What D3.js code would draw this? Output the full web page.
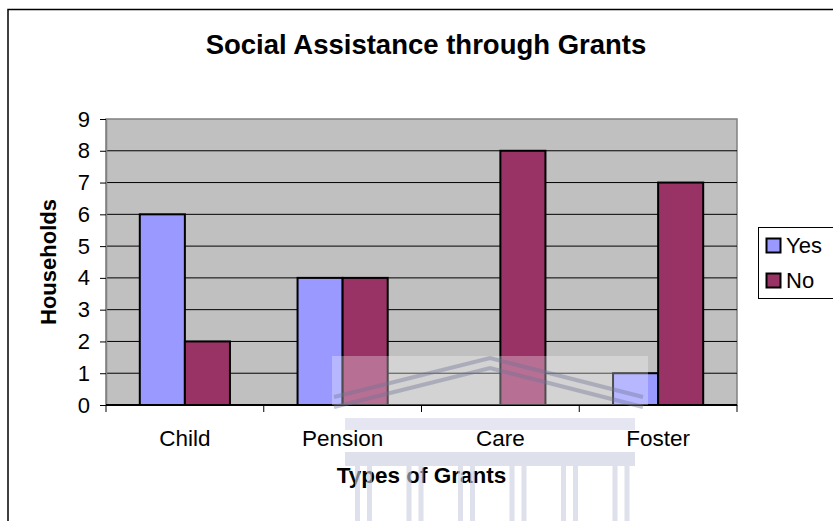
<!DOCTYPE html>
<html>
<head>
<meta charset="utf-8">
<script src="https://cdn.jsdelivr.net/npm/d3@7"></script>
<style>
  body { margin: 0; background: #fff; }
  svg { display: block; font-family: "Liberation Sans", Arial, sans-serif; }
</style>
</head>
<body>
<div id="chart"></div>
<script>
// data
const grants = ["Child", "Pension", "Care", "Foster"];
const yesValues = [6, 4, 0, 1];
const noValues = [2, 4, 8, 7];
const seriesNames = ["Yes", "No"];
const yTicks = [0, 1, 2, 3, 4, 5, 6, 7, 8, 9];

const W = 833, H = 521;
const margin = {top: 119, right: 96, bottom: 116, left: 106},
    width = W - margin.left - margin.right,
    height = H - margin.top - margin.bottom;

const colors = d3.scaleOrdinal().domain(seriesNames).range(["#9999ff", "#993366"]);

const svg = d3.select("#chart")
  .append("svg")
    .attr("width", W)
    .attr("height", H);

// outer chart border (runs off right/bottom edge)
svg.append("rect")
  .attr("x", 8).attr("y", 9.5)
  .attr("width", W + 20).attr("height", H + 20)
  .attr("fill", "none").attr("stroke", "#000").attr("stroke-width", 1.5);

svg.append("text")
  .attr("x", 426).attr("y", 54)
  .attr("text-anchor", "middle")
  .style("font-size", "27.5px").style("font-weight", "bold")
  .text("Social Assistance through Grants");

const g = svg.append("g")
  .attr("transform", `translate(${margin.left}, ${margin.top})`);

const x = d3.scaleBand().domain(grants).range([0, width]);
const xSub = d3.scaleBand().domain(seriesNames)
  .range([0, x.bandwidth()]).paddingOuter(0.75);
const y = d3.scaleLinear().domain([0, 9]).range([height, 0]);

// plot area
g.append("rect")
  .attr("width", width).attr("height", height)
  .attr("fill", "#c0c0c0").attr("stroke", "#808080").attr("stroke-width", 1.5);

// gridlines
g.selectAll(".grid")
  .data(yTicks.filter(d => d > 0 && d < 9))
  .enter().append("line")
    .attr("x1", 0).attr("x2", width)
    .attr("y1", d => y(d)).attr("y2", d => y(d))
    .attr("stroke", "#000").attr("stroke-width", 1);

// bars
const rows = grants.map((c, i) => ({grant: c, Yes: yesValues[i], No: noValues[i]}));
g.selectAll(".grp")
  .data(rows)
  .enter().append("g")
    .attr("transform", d => `translate(${x(d.grant)},0)`)
  .selectAll("rect")
  .data(d => seriesNames.map(s => ({key: s, value: d[s]})).filter(d => d.value > 0))
  .enter().append("rect")
    .attr("x", d => xSub(d.key))
    .attr("width", xSub.bandwidth())
    .attr("y", d => y(d.value))
    .attr("height", d => y(0) - y(d.value))
    .attr("fill", d => colors(d.key))
    .attr("stroke", "#000").attr("stroke-width", 2);

// y axis
const yAxis = g.append("g")
  .call(d3.axisLeft(y).tickValues(yTicks).tickSize(6).tickPadding(10).tickSizeOuter(0));
yAxis.select(".domain").attr("stroke", "#808080").attr("stroke-width", 1.5);
yAxis.selectAll("text").style("font-size", "22px").attr("fill", "#000");

// x axis
const xTickPos = d3.range(grants.length + 1).map(i => i * x.step());
const xAxisG = g.append("g").attr("transform", `translate(0, ${height})`);
xAxisG.append("line")
  .attr("x1", 0).attr("x2", width)
  .attr("stroke", "#000").attr("stroke-width", 2);
xAxisG.selectAll(".xt")
  .data(xTickPos)
  .enter().append("line")
    .attr("x1", d => d).attr("x2", d => d)
    .attr("y1", 0).attr("y2", 7)
    .attr("stroke", "#000");
xAxisG.selectAll(".xl")
  .data(grants)
  .enter().append("text")
    .attr("x", d => x(d) + x.bandwidth() / 2)
    .attr("y", 41)
    .attr("text-anchor", "middle")
    .style("font-size", "22.5px")
    .text(d => d);

// axis titles
svg.append("text")
  .attr("x", margin.left + width / 2).attr("y", 483)
  .attr("text-anchor", "middle")
  .style("font-size", "22.5px").style("font-weight", "bold")
  .text("Types of Grants");

svg.append("text")
  .attr("transform", `translate(56, ${margin.top + height / 2}) rotate(-90)`)
  .attr("text-anchor", "middle")
  .style("font-size", "22px").style("font-weight", "bold")
  .text("Households");

// legend
const legend = svg.append("g").attr("transform", "translate(758, 227)");
legend.append("rect")
  .attr("x", 0.5).attr("y", 0.5).attr("width", 90).attr("height", 71)
  .attr("fill", "#fff").attr("stroke", "#000");
seriesNames.forEach((s, i) => {
  legend.append("rect")
    .attr("x", 8.5).attr("y", 11.5 + i * 35).attr("width", 14).attr("height", 14)
    .attr("fill", colors(s)).attr("stroke", "#000").attr("stroke-width", 2);
  legend.append("text")
    .attr("x", 28).attr("y", 26 + i * 35)
    .style("font-size", "22px")
    .text(s);
});

// faint building watermark on top
const wm = svg.append("g").attr("pointer-events", "none");
wm.append("rect")
  .attr("x", 332).attr("y", 356).attr("width", 316).attr("height", 49)
  .attr("fill", "#ffffff").attr("opacity", 0.3);
[0, 10].forEach(off => {
  wm.append("polyline")
    .attr("points", `${334},${397 + off} ${490},${358 + off} ${643},${397 + off}`)
    .attr("fill", "none").attr("stroke", "#6e7396").attr("stroke-width", 4).attr("opacity", 0.4);
});
wm.append("rect").attr("x", 345).attr("y", 418).attr("width", 290).attr("height", 12)
  .attr("fill", "#d4d6e8").attr("opacity", 0.6);
wm.append("rect").attr("x", 345).attr("y", 452).attr("width", 290).attr("height", 14)
  .attr("fill", "#c8cbe0").attr("opacity", 0.6);
d3.range(6).forEach(i => {
  const cx = 355 + i * 51.5;
  [0, 12].forEach(dx => {
    wm.append("rect").attr("x", cx + dx).attr("y", 466).attr("width", 5).attr("height", 55)
      .attr("fill", "#c8cbe0").attr("opacity", 0.6);
  });
});
</script>
</body>
</html>
